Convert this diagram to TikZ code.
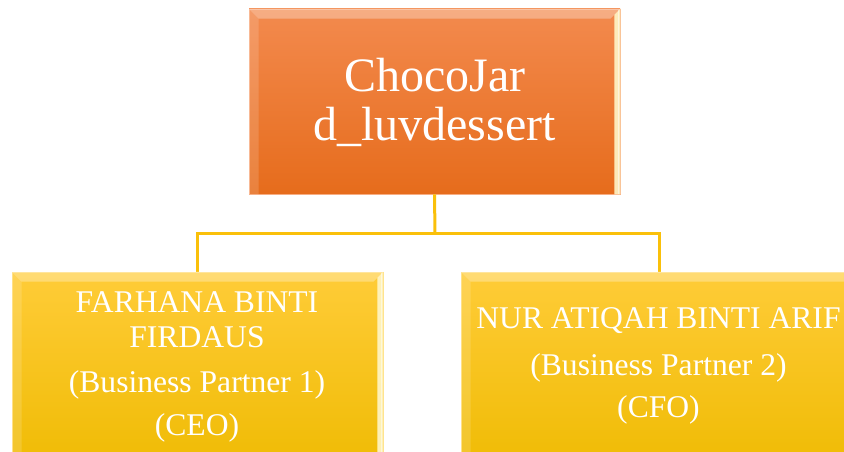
\documentclass[tikz,border=0pt]{standalone}
\usepackage{fontspec}
\setmainfont{Liberation Serif}
\usetikzlibrary{calc}
\definecolor{orangetop}{RGB}{243,138,78}
\definecolor{orangebot}{RGB}{230,108,28}
\definecolor{goldtop}{RGB}{255,204,56}
\definecolor{goldbot}{RGB}{238,186,0}
\definecolor{linkgold}{RGB}{250,192,10}
\definecolor{cream}{RGB}{255,246,200}
\newcommand{\bevelbox}[1]{%
  \fill[white,opacity=0.3] (#1.north west) -- (#1.north east)
    -- ($(#1.north east)+(-10,10)$) -- ($(#1.north west)+(10,10)$) -- cycle;
  \fill[white,opacity=0.15] (#1.north west) -- ($(#1.north west)+(10,10)$)
    -- ($(#1.south west)+(10,0)$) -- (#1.south west) -- cycle;
  \fill[cream,opacity=0.9] (#1.north east) -- ($(#1.north east)+(-6,6)$)
    -- ($(#1.south east)+(-6,0)$) -- (#1.south east) -- cycle;
  \draw[white,opacity=0.5,line width=1pt] ($(#1.north east)+(-2,1)$) -- ($(#1.south east)+(-2,0)$);}

\begin{document}
\begin{tikzpicture}[x=1pt,y=-1pt,
    topbox/.style={rectangle,inner sep=0pt,minimum width=371pt,minimum height=185pt,
      top color=orangetop,bottom color=orangebot,draw=orangetop!70!white,line width=0.6pt},
    partnerbox/.style={rectangle,inner sep=0pt,minimum height=210pt,
      top color=goldtop,bottom color=goldbot,draw=goldtop!70!white,line width=0.6pt},
    boxtext/.style={text=white,inner sep=0pt,anchor=base},
    link/.style={draw=linkgold,line width=3pt}]
  \useasboundingbox (0,0) rectangle (844,452);
  % ---------- connectors
  \coordinate (split) at (435,233);
  % ---------- boxes
  \node[topbox] (shop) at (434.5,101.5) {};
  \node[partnerbox,minimum width=371pt] (ceo) at (197.5,377) {};
  \node[partnerbox,minimum width=396pt] (cfo) at (659,377) {};
  \draw[link] (shop.south) -- (split);
  \draw[link] (split) -| (ceo.north);
  \draw[link] (split) -| (cfo.north);
  \bevelbox{shop}
  \bevelbox{ceo}
  \bevelbox{cfo}
  % ---------- texts
  \begin{scope}[font=\fontsize{48}{48}\selectfont]
    \node[boxtext] (shop1) at (435,92) {ChocoJar};
    \node[boxtext] (shop2) at (434.5,140) {d\_luvdessert};
  \end{scope}
  \begin{scope}[font=\fontsize{31.6}{31.6}\selectfont]
    \node[boxtext] (ceo1) at (197,312) {FARHANA BINTI};
    \node[boxtext] (ceo2) at (197,347) {FIRDAUS};
    \node[boxtext] (ceo3) at (197,392) {(Business Partner 1)};
    \node[boxtext] (ceo4) at (197,435) {(CEO)};
    \node[boxtext] (cfo1) at (658.5,328) {NUR ATIQAH BINTI ARIF};
    \node[boxtext] (cfo2) at (658.5,375) {(Business Partner 2)};
    \node[boxtext] (cfo3) at (658.5,417) {(CFO)};
  \end{scope}
\end{tikzpicture}
\end{document}
